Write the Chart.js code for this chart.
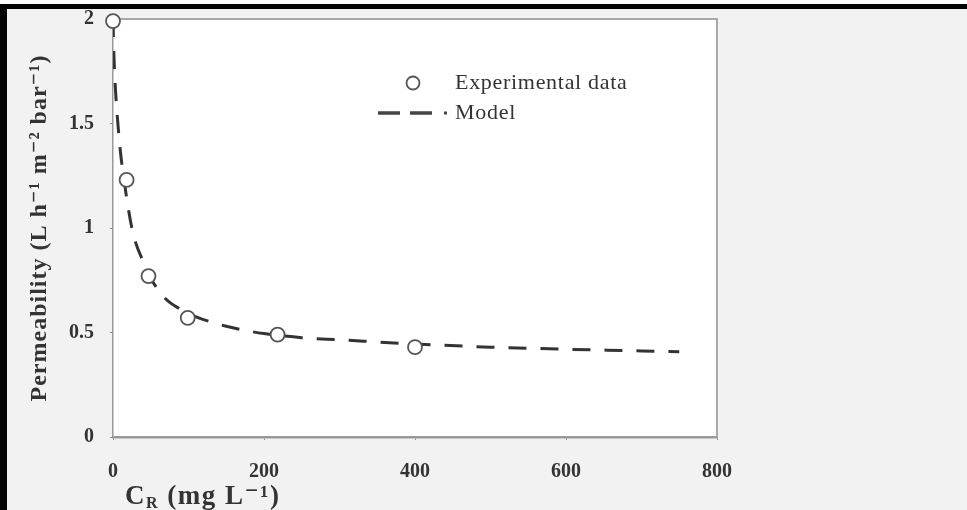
<!DOCTYPE html>
<html>
<head>
<meta charset="utf-8">
<script src="https://cdn.jsdelivr.net/npm/chart.js@4"></script>
<style>
  html, body { margin:0; padding:0; background:#ffffff; }
  #wrap { position:relative; width:967px; height:510px; background:#f2f2f2; overflow:hidden; }
  #topbar { position:absolute; left:0; top:4px; width:967px; height:5px; background:#050505; z-index:2; }
  #whitetop { position:absolute; left:0; top:0; width:967px; height:4px; background:#ffffff; z-index:2; }
  #leftbar { position:absolute; left:0; top:4px; width:7px; height:506px; background:#050505; z-index:2; }
  canvas { position:absolute; left:0; top:0; }
</style>
</head>
<body>
<div id="wrap">
  <div id="whitetop"></div>
  <div id="topbar"></div>
  <div id="leftbar"></div>
  <canvas id="c" width="967" height="510"></canvas>
</div>
<script>
// ---- data ----
const expConc  = [0, 18, 47, 99, 218, 400];            // C_R (mg L-1)
const expPerm  = [1.99, 1.23, 0.77, 0.57, 0.49, 0.43];  // permeability
const modelConc = [0, 1, 3, 6, 10, 15, 20, 25, 30, 40, 50, 70, 90, 110, 130, 150, 175, 200, 250, 300, 400, 500, 600, 750];
const modelPerm = [2.0, 1.85, 1.68, 1.52, 1.36, 1.22, 1.10, 1.00, 0.93, 0.84, 0.76, 0.66, 0.61, 0.575, 0.55, 0.53, 0.51, 0.495, 0.475, 0.465, 0.445, 0.43, 0.42, 0.408];
const xTicks = [0, 200, 400, 600, 800];
const yTickLabels = ['0', '0.5', '1', '1.5', '2'];
const seriesNames = ['Experimental data', 'Model'];
const yTitle = 'Permeability (L h\u207B\u00B9 m\u207B\u00B2 bar\u207B\u00B9)';
const xTitleMain = 'C', xTitleSub = 'R', xTitleRest = ' (mg L\u207B\u00B9)';

const expPts = expConc.map((x, i) => ({x, y: expPerm[i]}));
const modelPts = modelConc.map((x, i) => ({x, y: modelPerm[i]}));

const SERIF = '"Liberation Serif", "DejaVu Serif", serif';

const plotDecor = {
  id: 'plotDecor',
  beforeDraw(chart) {
    const {ctx, chartArea: a} = chart;
    ctx.save();
    ctx.fillStyle = '#ffffff';
    ctx.fillRect(a.left, a.top, a.right - a.left, a.bottom - a.top);
    ctx.restore();
  },
  beforeDatasetsDraw(chart) {
    const {ctx, chartArea: a} = chart;
    ctx.save();
    ctx.strokeStyle = '#a8a8a8';
    ctx.lineWidth = 2;
    ctx.beginPath();
    ctx.moveTo(a.left, a.top);
    ctx.lineTo(a.right, a.top);
    ctx.lineTo(a.right, a.bottom);
    ctx.stroke();
    ctx.restore();
  },
  afterDraw(chart) {
    const {ctx, chartArea: a} = chart;
    ctx.save();
    // legend inside plot
    const lx = a.left + 300;
    const y1 = 83, y2 = 113;
    ctx.beginPath();
    ctx.arc(lx, y1, 6.5, 0, Math.PI * 2);
    ctx.fillStyle = '#fff';
    ctx.fill();
    ctx.lineWidth = 1.8;
    ctx.strokeStyle = '#555';
    ctx.stroke();
    ctx.strokeStyle = '#444';
    ctx.lineWidth = 3.5;
    ctx.beginPath();
    ctx.moveTo(378, y2); ctx.lineTo(400, y2);
    ctx.moveTo(410, y2); ctx.lineTo(432, y2);
    ctx.stroke();
    ctx.fillStyle = '#444';
    ctx.fillRect(444, y2 - 1.5, 3, 3);
    ctx.fillStyle = '#333';
    ctx.font = '22px ' + SERIF;
    ctx.letterSpacing = '0.7px';
    ctx.textBaseline = 'middle';
    ctx.textAlign = 'left';
    ctx.fillText(seriesNames[0], 455, y1);
    ctx.fillText(seriesNames[1], 455, y2);
    // x axis title with subscript
    ctx.letterSpacing = '1.5px';
    ctx.fillStyle = '#333';
    ctx.textBaseline = 'alphabetic';
    let x = 125, yb = 504;
    ctx.font = 'bold 27px ' + SERIF;
    ctx.fillText(xTitleMain, x, yb);
    x += ctx.measureText(xTitleMain).width;
    ctx.font = 'bold 16px ' + SERIF;
    ctx.fillText(xTitleSub, x, yb + 4);
    x += ctx.measureText(xTitleSub).width;
    ctx.font = 'bold 27px ' + SERIF;
    ctx.fillText(xTitleRest, x, yb);
    // y axis title (rotated)
    ctx.letterSpacing = '1px';
    ctx.translate(40, (a.top + a.bottom) / 2);
    ctx.rotate(-Math.PI / 2);
    ctx.font = 'bold 24px ' + SERIF;
    ctx.textAlign = 'center';
    ctx.textBaseline = 'middle';
    ctx.fillText(yTitle, 0, 0);
    ctx.restore();
  }
};

new Chart(document.getElementById('c'), {
  type: 'scatter',
  data: {
    datasets: [
      {
        label: seriesNames[0],
        data: expPts,
        showLine: false,
        pointRadius: 7,
        pointBackgroundColor: '#ffffff',
        pointBorderColor: '#555555',
        pointBorderWidth: 1.8,
        clip: false,
        order: 1
      },
      {
        label: seriesNames[1],
        data: modelPts,
        showLine: true,
        pointRadius: 0,
        borderColor: '#333333',
        borderWidth: 3,
        borderDash: [18, 14],
        cubicInterpolationMode: 'monotone',
        fill: false,
        order: 2
      }
    ]
  },
  options: {
    responsive: false,
    animation: false,
    events: [],
    layout: { padding: { left: 7, top: 19, right: 250, bottom: 0 } },
    plugins: { legend: { display: false }, tooltip: { enabled: false } },
    scales: {
      x: {
        type: 'linear',
        min: 0, max: 800,
        afterBuildTicks(s) { s.ticks = xTicks.map(v => ({value: v})); },
        afterFit(s) { s.height = 73; },
        grid: { display: true, drawOnChartArea: false, drawTicks: true, tickLength: 3, color: '#888' },
        border: { display: true, color: '#999', width: 2.5 },
        ticks: { padding: 20, color: '#333', font: { family: SERIF, size: 20, weight: 'bold' }, maxRotation: 0 }
      },
      y: {
        type: 'linear',
        min: 0, max: 2,
        afterBuildTicks(s) { s.ticks = yTickLabels.map(v => ({value: parseFloat(v)})); },
        afterFit(s) { s.width = 106; s.paddingTop = 0; s.paddingBottom = 0; },
        grid: { display: true, drawOnChartArea: false, drawTicks: true, tickLength: 3, color: '#888' },
        border: { display: true, color: '#999', width: 1.5 },
        ticks: {
          padding: 16, color: '#333', font: { family: SERIF, size: 20, weight: 'bold' },
          callback(v) { const i = yTickLabels.findIndex(t => parseFloat(t) === v); return i >= 0 ? yTickLabels[i] : ''; }
        }
      }
    }
  },
  plugins: [plotDecor]
});
</script>
</body>
</html>
